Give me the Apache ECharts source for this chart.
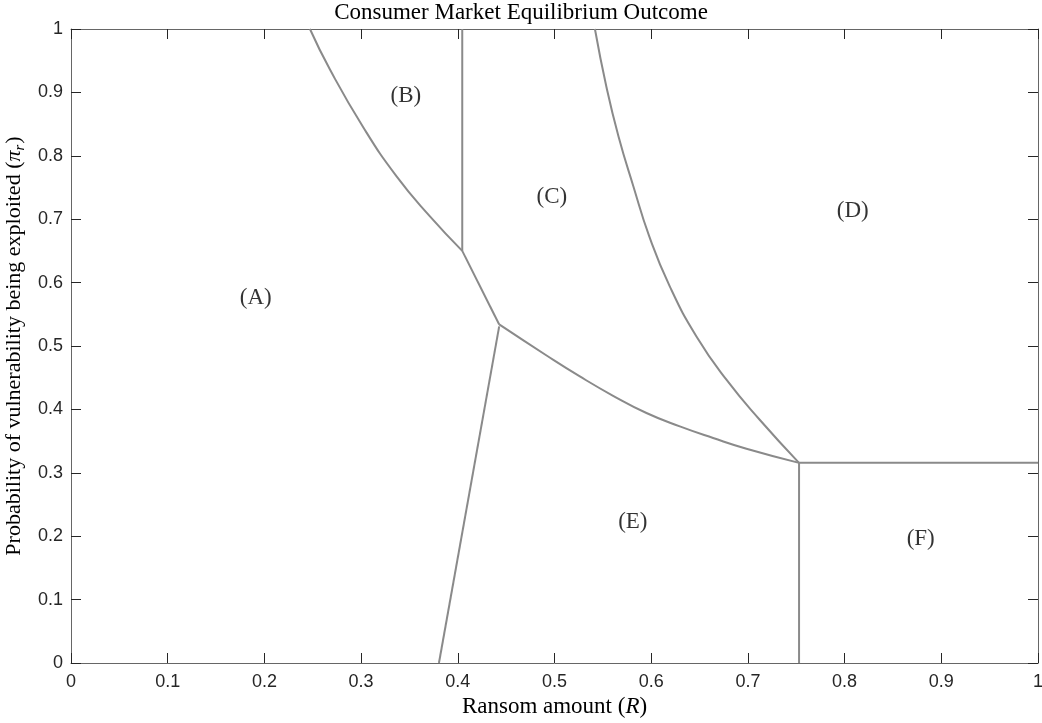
<!DOCTYPE html>
<html>
<head>
<meta charset="utf-8">
<script src="https://cdn.jsdelivr.net/npm/echarts@6/dist/echarts.min.js"></script>
<style>html,body{margin:0;padding:0;background:#fff}#c{width:1042px;height:723px}</style>
</head>
<body>
<div id="c"></div>
<script>
// ---- data ----
const xTickLabels = ['0','0.1','0.2','0.3','0.4','0.5','0.6','0.7','0.8','0.9','1'];
const yTickLabels = ['0','0.1','0.2','0.3','0.4','0.5','0.6','0.7','0.8','0.9','1'];

const boundaryAB = [[0.2471,1.0],[0.2678,0.936],[0.3022,0.845],[0.3367,0.7675],[0.3712,0.7044],[0.4046,0.65]];
const boundaryBC = [[0.4046,0.65],[0.4046,1.0]];
const boundaryAC = [[0.4046,0.65],[0.4428,0.534]];
const boundaryAE = [[0.4428,0.531],[0.3805,0.0]];
const boundaryCE = [[0.4428,0.534],[0.4918,0.485],[0.5262,0.452],[0.5606,0.4215],[0.5951,0.3943],[0.6296,0.3732],[0.664,0.3549],[0.6985,0.338],[0.7529,0.3157]];
const boundaryCD = [[0.5418,1.0],[0.5536,0.9094],[0.5662,0.8306],[0.5816,0.7517],[0.598,0.6729],[0.6192,0.594],[0.6468,0.5151],[0.6778,0.4468],[0.7122,0.3837],[0.7529,0.3157]];
const boundaryDF = [[0.7529,0.3157],[1.0,0.3157]];
const boundaryEF = [[0.7529,0.0],[0.7529,0.3157]];

const regionNames = ['(A)','(B)','(C)','(D)','(E)','(F)'];
const regionX = [0.191,0.3463,0.4973,0.8084,0.581,0.8787];
const regionY = [0.576,0.895,0.735,0.713,0.2223,0.1955];

const titleText = 'Consumer Market Equilibrium Outcome';
const xNameMain = 'Ransom amount (';
const xNameVar = 'R';
const yNameMain = 'Probability of vulnerability being exploited (';

// ---- chart ----
const serif = '"Liberation Serif", "Times New Roman", serif';
const sans = '"Liberation Sans", Arial, sans-serif';
const lineColor = '#8a8a8a';

function lineSeries(data, smooth) {
  return {
    type: 'line', data: data, xAxisIndex: 0, yAxisIndex: 0,
    showSymbol: false, symbol: 'none', smooth: smooth ? 0.5 : false,
    lineStyle: { color: lineColor, width: 2 }, silent: true, animation: false
  };
}

const chart = echarts.init(document.getElementById('c'), null, { renderer: 'canvas' });
const axisCommon = {
  type: 'value', min: 0, max: 1, interval: 0.1,
  axisLine: { show: true, onZero: false, lineStyle: { color: '#666', width: 1 } },
  axisTick: { show: true, inside: true, length: 10, lineStyle: { color: '#262626', width: 1 } },
  splitLine: { show: false }
};
chart.setOption({
  animation: false,
  backgroundColor: '#fff',
  title: {
    text: titleText, left: 'center', top: 1, padding: 0,
    textStyle: { fontFamily: serif, fontSize: 23, fontWeight: 'normal', color: '#000' }
  },
  grid: { left: 71, right: 4, top: 29, bottom: 60, containLabel: false, outerBoundsMode: 'none' },
  xAxis: [
    Object.assign({}, axisCommon, {
      position: 'bottom',
      name: '{n|' + xNameMain + '}{i|' + xNameVar + '}{n|)}',
      nameLocation: 'middle', nameGap: 29,
      nameTextStyle: {
        rich: {
          n: { fontFamily: serif, fontSize: 23, color: '#000' },
          i: { fontFamily: serif, fontSize: 23, fontStyle: 'italic', color: '#000' }
        }
      },
      axisLabel: {
        show: true, margin: 10, fontFamily: sans, fontSize: 18, color: '#262626',
        formatter: v => xTickLabels[Math.round(v * 10)]
      }
    }),
    Object.assign({}, axisCommon, { position: 'top', axisLabel: { show: false } })
  ],
  yAxis: [
    Object.assign({}, axisCommon, {
      position: 'left',
      name: '{n|' + yNameMain + '}{i|π}{s|r}{n|)}',
      nameLocation: 'middle', nameGap: 42, nameRotate: 90,
      nameTextStyle: {
        rich: {
          n: { fontFamily: serif, fontSize: 22, color: '#000', lineHeight: 26, verticalAlign: 'middle' },
          i: { fontFamily: serif, fontSize: 22, fontStyle: 'italic', color: '#000', lineHeight: 26, verticalAlign: 'middle' },
          s: { fontFamily: serif, fontSize: 15, fontStyle: 'italic', color: '#000', lineHeight: 26, verticalAlign: 'bottom', padding: [0, 1, 0, 0] }
        }
      },
      axisLabel: {
        show: true, margin: 8, fontFamily: sans, fontSize: 18, color: '#262626',
        formatter: v => yTickLabels[Math.round(v * 10)]
      }
    }),
    Object.assign({}, axisCommon, { position: 'right', axisLabel: { show: false } })
  ],
  series: [
    lineSeries(boundaryAB, true),
    lineSeries(boundaryBC, false),
    lineSeries(boundaryAC, false),
    lineSeries(boundaryAE, false),
    lineSeries(boundaryCE, true),
    lineSeries(boundaryCD, true),
    lineSeries(boundaryDF, false),
    lineSeries(boundaryEF, false),
    {
      type: 'scatter', symbolSize: 0, silent: true, animation: false,
      data: regionNames.map((n, i) => ({ name: n, value: [regionX[i], regionY[i]] })),
      label: {
        show: true, position: 'inside', formatter: p => p.name,
        fontFamily: serif, fontSize: 23, color: '#000'
      }
    }
  ]
});
</script>
</body>
</html>
